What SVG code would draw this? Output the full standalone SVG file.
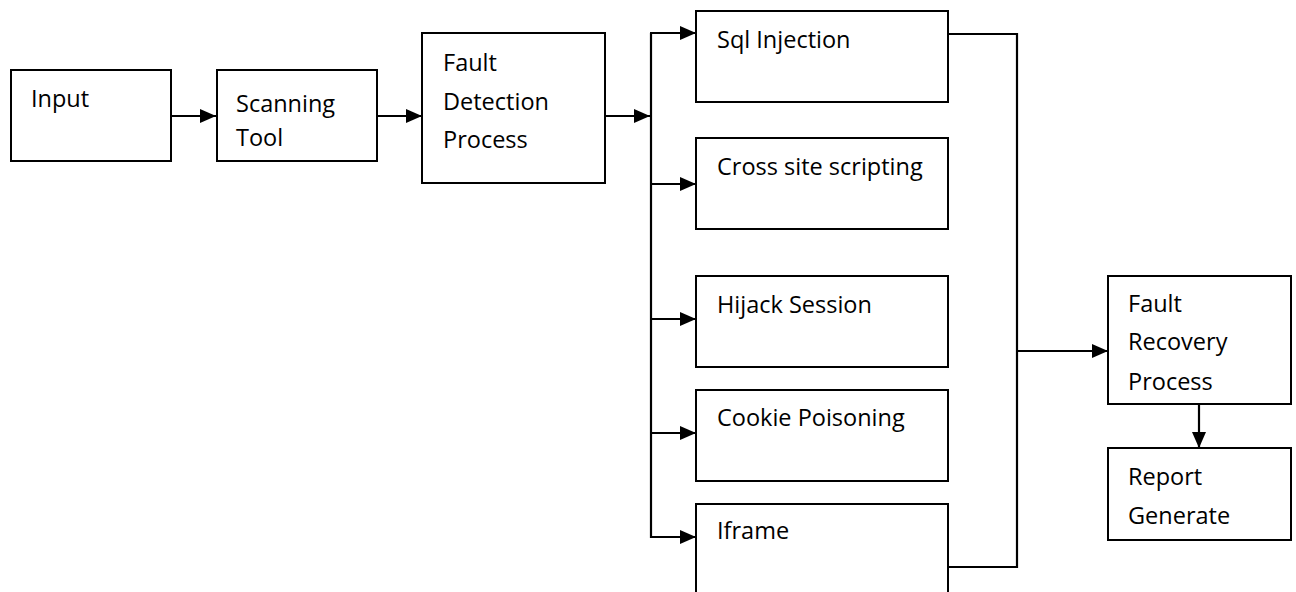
<svg xmlns="http://www.w3.org/2000/svg" width="1296" height="592" viewBox="0 0 1296 592">
  <style>
    .box { fill: #ffffff; stroke: #000000; stroke-width: 2; }
    .label { font-family: "Open Sans", "Liberation Sans", sans-serif; font-size: 23.5px; fill: #000000; }
    .wire { fill: none; stroke: #000000; stroke-width: 2.2; }
    .arrow { marker-end: url(#head); }
  </style>
  <defs>
    <marker id="head" markerUnits="userSpaceOnUse" markerWidth="16" markerHeight="14" refX="16" refY="7" orient="auto">
      <path d="M0,0 L16,7 L0,14 Z" fill="#000000"/>
    </marker>
  </defs>
  <rect width="1296" height="592" fill="#ffffff"/>

  <g id="connectors">
    <path class="wire arrow" d="M171,116 H216"/>
    <path class="wire arrow" d="M377,116 H422"/>
    <path class="wire arrow" d="M605,116 H650"/>
    <path class="wire" d="M651,33 V538"/>
    <path class="wire arrow" d="M650,33 H696"/>
    <path class="wire arrow" d="M650,184 H696"/>
    <path class="wire arrow" d="M650,319 H696"/>
    <path class="wire arrow" d="M650,433 H696"/>
    <path class="wire arrow" d="M650,537 H696"/>
    <path class="wire" d="M948,34 H1017 V567 H948"/>
    <path class="wire arrow" d="M1017,351 H1108"/>
    <path class="wire arrow" d="M1199,404 V448"/>
  </g>

  <g id="input">
    <rect class="box" x="11" y="70" width="160" height="91"/>
    <text class="label" x="31" y="107">Input</text>
  </g>
  <g id="scanning-tool">
    <rect class="box" x="217" y="70" width="160" height="91"/>
    <text class="label" x="236" y="112">Scanning</text>
    <text class="label" x="236" y="146">Tool</text>
  </g>
  <g id="fault-detection">
    <rect class="box" x="422" y="33" width="183" height="150"/>
    <text class="label" x="443" y="71">Fault</text>
    <text class="label" x="443" y="110">Detection</text>
    <text class="label" x="443" y="148">Process</text>
  </g>
  <g id="sql-injection">
    <rect class="box" x="696" y="11" width="252" height="91"/>
    <text class="label" x="717" y="48">Sql Injection</text>
  </g>
  <g id="cross-site-scripting">
    <rect class="box" x="696" y="138" width="252" height="91"/>
    <text class="label" x="717" y="175">Cross site scripting</text>
  </g>
  <g id="hijack-session">
    <rect class="box" x="696" y="276" width="252" height="91"/>
    <text class="label" x="717" y="313">Hijack Session</text>
  </g>
  <g id="cookie-poisoning">
    <rect class="box" x="696" y="390" width="252" height="91"/>
    <text class="label" x="717" y="426">Cookie Poisoning</text>
  </g>
  <g id="iframe">
    <rect class="box" x="696" y="504" width="252" height="100"/>
    <text class="label" x="717" y="539">Iframe</text>
  </g>
  <g id="fault-recovery">
    <rect class="box" x="1108" y="276" width="183" height="128"/>
    <text class="label" x="1128" y="312">Fault</text>
    <text class="label" x="1128" y="350">Recovery</text>
    <text class="label" x="1128" y="390">Process</text>
  </g>
  <g id="report-generate">
    <rect class="box" x="1108" y="448" width="183" height="92"/>
    <text class="label" x="1128" y="485">Report</text>
    <text class="label" x="1128" y="524">Generate</text>
  </g>
</svg>
